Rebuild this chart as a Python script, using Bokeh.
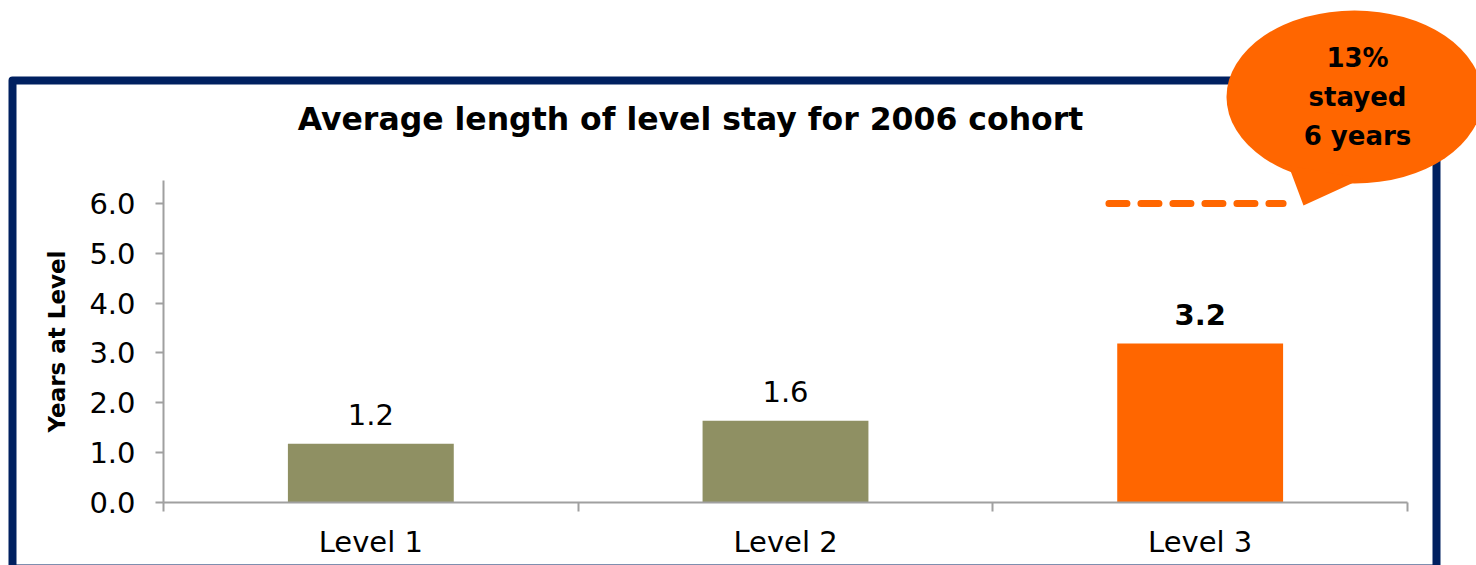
from bokeh.plotting import figure
from bokeh.models import Range1d, LinearAxis, FixedTicker, NumeralTickFormatter, ColumnDataSource
from bokeh.core.properties import value
from bokeh.embed import file_html
from bokeh.resources import INLINE

# ---- data ----
categories = ["Level 1", "Level 2", "Level 3"]
years = [1.18, 1.64, 3.19]
highlight = "Level 3"
highlight_line_value = 6.0
y_ticks = [0, 1, 2, 3, 4, 5, 6]
title_text = "Average length of level stay for 2006 cohort"
y_label = "Years at Level"
callout_lines = ["13%", "stayed", "6 years"]

# ---- styling ----
OLIVE = "#8F9063"
ORANGE = "#FF6600"
NAVY = "#002060"
GRAY = "#A0A0A0"
FONT = "DejaVu Sans"

W, H = 1476, 565
FL, FR, FT, FB = 163, 1407, 180, 502  # frame edges in pixels
X0, X1 = 0.5, len(categories) + 0.5
Y0, Y1 = 0.0, 6.46

positions = list(range(1, len(categories) + 1))
colors = [ORANGE if c == highlight else OLIVE for c in categories]
styles = ["bold" if c == highlight else "normal" for c in categories]
labels = [f"{v:.1f}" for v in years]

src = ColumnDataSource(dict(x=positions, top=years, color=colors, style=styles, label=labels, cat=categories))

p = figure(width=W, height=H, output_backend="svg", toolbar_location=None,
           x_range=Range1d(X0, X1), y_range=Range1d(Y0, Y1),
           x_axis_type=None, y_axis_type=None,
           min_border_left=FL, min_border_right=W - FR, min_border_top=FT, min_border_bottom=H - FB)
p.outline_line_color = None
p.xgrid.visible = False
p.ygrid.visible = False
p.background_fill_color = "white"
p.border_fill_color = "white"


def px2x(px):
    return X0 + (px - FL) * (X1 - X0) / (FR - FL)


def py2y(py):
    return Y0 + (FB - py) * (Y1 - Y0) / (FB - FT)


# y axis
yax = LinearAxis(ticker=FixedTicker(ticks=y_ticks, minor_ticks=[]),
                 formatter=NumeralTickFormatter(format="0.0"),
                 axis_label=y_label)
yax.axis_line_color = GRAY
yax.axis_line_width = 2
yax.major_tick_line_color = GRAY
yax.major_tick_line_width = 2
yax.major_tick_out = 8
yax.major_tick_in = 0
yax.minor_tick_line_color = None
yax.major_label_text_font = FONT
yax.major_label_text_font_size = "29px"
yax.major_label_text_color = "#000000"
yax.major_label_standoff = 20
yax.axis_label_text_font = FONT
yax.axis_label_text_font_size = "23px"
yax.axis_label_text_font_style = "bold"
yax.axis_label_text_color = "#000000"
yax.axis_label_standoff = 16
p.add_layout(yax, "left")

# x axis: labels at centres, ticks at category boundaries
xax = LinearAxis(ticker=FixedTicker(ticks=positions, minor_ticks=[i + 0.5 for i in range(len(categories) + 1)]))
xax.major_label_overrides = {pos: cat for pos, cat in zip(positions, categories)}
xax.axis_line_color = GRAY
xax.axis_line_width = 2
xax.major_tick_line_color = None
xax.major_tick_out = 0
xax.major_tick_in = 0
xax.minor_tick_line_color = GRAY
xax.minor_tick_line_width = 2
xax.minor_tick_out = 9
xax.minor_tick_in = 0
xax.major_label_text_font = FONT
xax.major_label_text_font_size = "29px"
xax.major_label_text_color = "#000000"
xax.major_label_standoff = 13
p.add_layout(xax, "below")

# bars
p.vbar(x="x", top="top", bottom=0, width=0.4, fill_color="color", line_color=None, source=src)
p.text(x="x", y="top", text="label", source=src, text_align="center", text_baseline="alphabetic",
       y_offset=-29, text_font=value(FONT), text_font_size=value("29px"), text_font_style="style",
       text_color="#000000")

# dashed 6-year line over highlighted bar
hi = positions[categories.index(highlight)]
p.line(x=[hi - 0.22, hi + 0.2], y=[highlight_line_value, highlight_line_value], line_color=ORANGE,
       line_width=7, line_dash="18 14", line_cap="round")

# navy frame border
bx = [px2x(v) for v in [12, 12, 1436, 1436, 12]]
by = [py2y(v) for v in [568, 80, 80, 568, 568]]
r = p.line(x=bx, y=by, line_color=NAVY, line_width=8, line_join="round")
r.level = "overlay"

# title
t = p.text(x=[px2x(690)], y=[py2y(118)], text=[title_text], text_align="center", text_baseline="alphabetic",
           text_font=value(FONT), text_font_size=value("31.5px"), text_font_style="bold", text_color="#000000")
t.level = "overlay"

# callout bubble
e = p.ellipse(x=[px2x(1354)], y=[py2y(96.5)], width=256, height=173, width_units="screen", height_units="screen",
              fill_color=ORANGE, line_color=None)
e.level = "overlay"
tail = p.patch(x=[px2x(v) for v in [1288, 1303, 1362]], y=[py2y(v) for v in [165, 205, 178]],
               fill_color=ORANGE, line_color=None)
tail.level = "overlay"
ct = p.text(x=[px2x(1357)] * 3, y=[py2y(v) for v in [57, 96, 135]], text=callout_lines,
            text_align="center", text_baseline="alphabetic", text_font=value(FONT),
            text_font_size=value("26px"), text_font_style="bold", text_color="#000000")
ct.level = "overlay"

open("out.html", "w").write(file_html(p, INLINE))
